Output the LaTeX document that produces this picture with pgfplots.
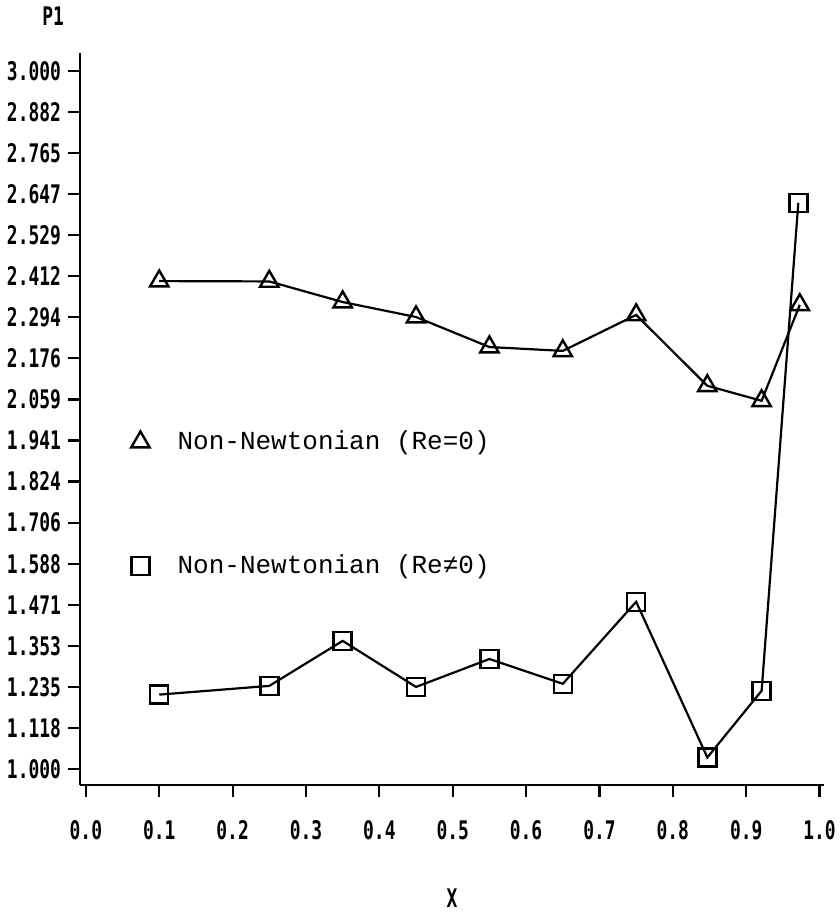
\documentclass[border=0pt]{standalone}
\usepackage{fontspec}
\usepackage{pgfplots}
\pgfplotsset{compat=1.18}
\newfontfamily\tickfont[FakeStretch=0.70]{DejaVu Sans Mono}
\newfontfamily\legfont{Liberation Mono}
\begin{document}
\begin{tikzpicture}
\path[use as bounding box] (-40pt,-66pt) rectangle (380pt,392.5pt);
\begin{axis}[
  at={(0,0)}, anchor=south west,
  scale only axis, width=372pt, height=366pt,
  xmin=-0.008, xmax=1.006, ymin=0.954, ymax=3.0516,
  axis lines=left, axis line style={line width=1.1pt, -},
  tick style={line width=1.1pt, black},
  tick align=outside, major tick length=6pt,
  xtick={0,0.1,...,1.0},
  xticklabels={0.0,0.1,0.2,0.3,0.4,0.5,0.6,0.7,0.8,0.9,1.0},
  ytick={1.000,1.1176,1.2353,1.3529,1.4706,1.5882,1.7059,1.8235,1.9412,2.0588,2.1765,2.2941,2.4118,2.5294,2.6471,2.7647,2.8824,3.000},
  yticklabels={1.000,1.118,1.235,1.353,1.471,1.588,1.706,1.824,1.941,2.059,2.176,2.294,2.412,2.529,2.647,2.765,2.882,3.000},
  ticklabel style={font=\tickfont\bfseries\fontsize{12.8}{14}\selectfont},
  xticklabel style={yshift=-8pt},
  yticklabel style={xshift=0pt},
  xlabel={X}, ylabel={P1},
  label style={font=\tickfont\bfseries\fontsize{12.8}{14}\selectfont},
  xlabel style={at={(axis description cs:0.5,-0.154)}, anchor=center},
  ylabel style={rotate=-90, at={(axis description cs:-0.036,1.05)}, anchor=center},
  clip=false,
  legend image code/.code={\draw[#1, only marks] plot coordinates {(0pt,0pt)};},
  legend cell align=left,
  legend style={draw=none, fill=none, font=\legfont\fontsize{13}{15}\selectfont,
    at={(axis cs:0.0613,1.975)}, anchor=north west, inner sep=0pt,
    row sep=49pt, nodes={inner sep=1pt},
    /tikz/every odd column/.append style={column sep=13pt}},
]
\addplot[black, line width=1.1pt, mark=triangle, mark size=5.3pt,
  mark options={fill=white, line width=1.2pt}] coordinates {
  (0.1,2.398) (0.25,2.397) (0.35,2.338) (0.45,2.295) (0.55,2.209)
  (0.65,2.198) (0.75,2.301) (0.847,2.098) (0.921,2.055) (0.973,2.330)
};
\addlegendentry{Non-Newtonian (Re=0)}
\addplot[black, line width=1.1pt, mark=square, mark size=4.5pt,
  mark options={fill=white, line width=1.2pt}] coordinates {
  (0.1,1.213) (0.25,1.238) (0.35,1.367) (0.45,1.235) (0.55,1.315)
  (0.65,1.244) (0.75,1.479) (0.847,1.033) (0.921,1.224) (0.971,2.622)
};
\addlegendentry{Non-Newtonian (Re≠0)}
\end{axis}
\end{tikzpicture}
\end{document}
